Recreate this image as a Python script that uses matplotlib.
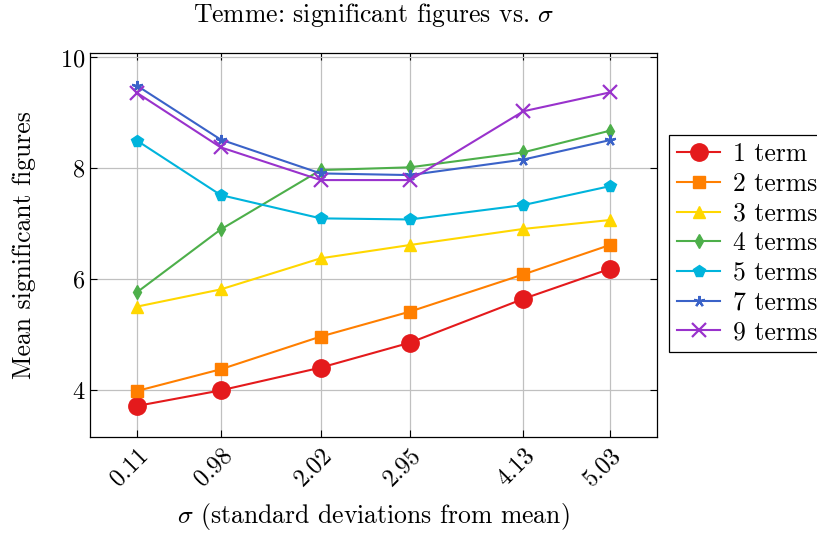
import matplotlib
matplotlib.use('Agg')
import matplotlib.pyplot as plt

plt.rcParams['font.family'] = 'cmr10'
plt.rcParams['mathtext.fontset'] = 'cm'
plt.rcParams['axes.formatter.use_mathtext'] = True

# ── data ──
sigma = [0.11, 0.98, 2.02, 2.95, 4.13, 5.03]
sigma_labels = ['0.11', '0.98', '2.02', '2.95', '4.13', '5.03']

terms_1 = [3.72, 4.00, 4.41, 4.86, 5.65, 6.19]
terms_2 = [3.99, 4.38, 4.97, 5.42, 6.09, 6.62]
terms_3 = [5.51, 5.82, 6.38, 6.62, 6.91, 7.07]
terms_4 = [5.77, 6.90, 7.97, 8.02, 8.29, 8.68]
terms_5 = [8.50, 7.52, 7.10, 7.08, 7.34, 7.68]
terms_7 = [9.49, 8.52, 7.91, 7.88, 8.16, 8.51]
terms_9 = [9.36, 8.38, 7.79, 7.79, 9.03, 9.37]

series_labels = ['1 term', '2 terms', '3 terms', '4 terms', '5 terms', '7 terms', '9 terms']
series = [terms_1, terms_2, terms_3, terms_4, terms_5, terms_7, terms_9]

# ── styles ──
colors = ['#e41a1c', '#ff7f00', '#ffd700', '#4daf4a', '#00b4dc', '#3a62c8', '#9932cc']
markers = ['o', 's', '^', 'd', 'p', (5, 2, 0), 'x']
msizes = [12.5, 9, 8, 7, 8.5, 8, 10.5]
fs = 18.5

fig = plt.figure(figsize=(8.17, 5.36), dpi=100)
ax = fig.add_axes([90 / 817, 1 - 437 / 536, (657 - 90) / 817, (437 - 53) / 536])

for ys, lab, c, m, ms in zip(series, series_labels, colors, markers, msizes):
    ax.plot(sigma, ys, color=c, marker=m, markersize=ms, linewidth=1.5,
            label=lab, markeredgewidth=1.6 if m in ('x', (5, 2, 0)) else 1.0,
            markeredgecolor=c, markerfacecolor=c)

ax.set_xlim(-0.38, 5.52)
ax.set_ylim(3.16, 10.08)
ax.set_xticks(sigma)
ax.set_xticklabels(sigma_labels, rotation=45, ha='right', rotation_mode='anchor')
ax.set_yticks([4, 6, 8, 10])
ax.tick_params(direction='in', length=5, labelsize=17.5, top=True, right=True, width=0.8)
ax.tick_params(axis='x', pad=5)
ax.grid(True, color='#c0c0c0', linewidth=0.9)
ax.set_axisbelow(True)
for sp in ax.spines.values():
    sp.set_linewidth(0.9)

ax.set_title(r'Temme: significant figures vs. $\sigma$', fontsize=fs, pad=22)
ax.set_xlabel(r'$\sigma$ (standard deviations from mean)', fontsize=fs, labelpad=8)
ax.set_ylabel('Mean significant figures', fontsize=fs, labelpad=17)

leg = ax.legend(loc='upper left', bbox_to_anchor=(669 / 817, 1 - 135 / 536),
                bbox_transform=fig.transFigure, fontsize=fs, fancybox=False,
                edgecolor='black', framealpha=1, handlelength=1.7,
                borderpad=0.3, labelspacing=0.23, handletextpad=0.5,
                borderaxespad=0)
leg.get_frame().set_linewidth(0.9)

plt.savefig('out.png', dpi=100, facecolor='white')
